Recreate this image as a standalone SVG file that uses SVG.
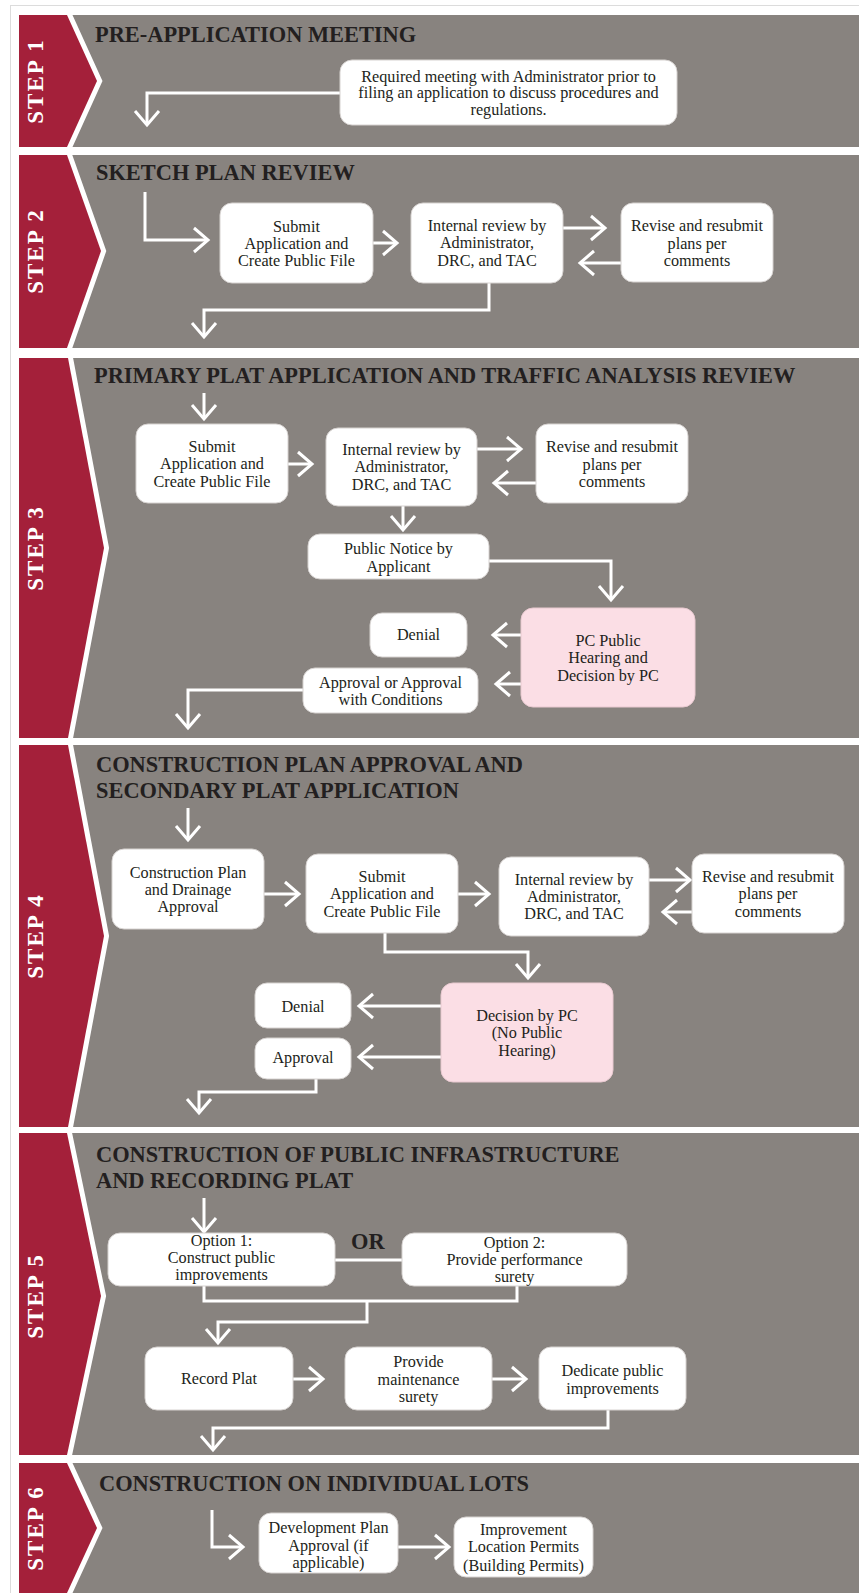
<svg xmlns="http://www.w3.org/2000/svg" width="859" height="1593" viewBox="0 0 859 1593">
<style>
.band{fill:#88837f}
.chev{fill:#a4203a;stroke:#fff;stroke-width:10;stroke-linejoin:miter;paint-order:stroke}
.step{font-family:"Liberation Serif","Times New Roman",serif;font-weight:bold;font-size:23px;fill:#fff;letter-spacing:2px;text-anchor:middle}
.title{font-family:"Liberation Serif","Times New Roman",serif;font-weight:bold;font-size:22.4px;fill:#231f20}
.box{fill:#fff;stroke:#d6d2d0;stroke-width:1}
.pink{fill:#fbdee5;stroke:#e8c9d0;stroke-width:1}
.t{font-family:"Liberation Serif","Times New Roman",serif;font-size:16.2px;fill:#231f20;text-anchor:middle}
.c{fill:none;stroke:#fff;stroke-width:3}
</style>
<defs>
<marker id="ah" viewBox="-17 -15 20 30" refX="0" refY="0" markerWidth="20" markerHeight="30" markerUnits="userSpaceOnUse" orient="auto">
<path d="M-14,-12 L0,0 L-14,12" fill="none" stroke="#fff" stroke-width="3"/>
</marker>
</defs>
<rect x="0" y="0" width="859" height="1593" fill="#fff"/>
<rect x="10.5" y="5.5" width="900" height="1650" fill="none" stroke="#dcdcdc" stroke-width="1"/>

<g id="bands">
<rect class="band" x="60" y="15" width="799" height="132"/>
<rect class="band" x="60" y="155" width="799" height="193"/>
<rect class="band" x="60" y="358" width="799" height="380"/>
<rect class="band" x="60" y="745" width="799" height="382"/>
<rect class="band" x="60" y="1133" width="799" height="322"/>
<rect class="band" x="60" y="1463" width="799" height="140"/>
</g>

<g id="step1-label">
<polygon class="chev" points="19,15 67,15 97,81 67,147 19,147"/>
<text class="step" transform="translate(43,81) rotate(-90)">STEP 1</text>
</g>
<g id="step2-label">
<polygon class="chev" points="19,155 67,155 101,251 67,348 19,348"/>
<text class="step" transform="translate(43,251) rotate(-90)">STEP 2</text>
</g>
<g id="step3-label">
<polygon class="chev" points="19,358 68,358 104,548 68,738 19,738"/>
<text class="step" transform="translate(43,548) rotate(-90)">STEP 3</text>
</g>
<g id="step4-label">
<polygon class="chev" points="19,745 68,745 104,936 68,1127 19,1127"/>
<text class="step" transform="translate(43,936) rotate(-90)">STEP 4</text>
</g>
<g id="step5-label">
<polygon class="chev" points="19,1133 67,1133 101,1296 67,1455 19,1455"/>
<text class="step" transform="translate(43,1296) rotate(-90)">STEP 5</text>
</g>
<g id="step6-label">
<polygon class="chev" points="19,1463 67,1463 97,1528 67,1593 19,1593"/>
<text class="step" transform="translate(43,1528) rotate(-90)">STEP 6</text>
</g>

<g id="titles">
<text class="title" x="95" y="42">PRE-APPLICATION MEETING</text>
<text class="title" x="96" y="180">SKETCH PLAN REVIEW</text>
<text class="title" x="94" y="383">PRIMARY PLAT APPLICATION AND TRAFFIC ANALYSIS REVIEW</text>
<text class="title" x="96" y="772">CONSTRUCTION PLAN APPROVAL AND</text>
<text class="title" x="96" y="798">SECONDARY PLAT APPLICATION</text>
<text class="title" x="96" y="1162">CONSTRUCTION OF PUBLIC INFRASTRUCTURE</text>
<text class="title" x="96" y="1188">AND RECORDING PLAT</text>
<text class="title" x="99" y="1491">CONSTRUCTION ON INDIVIDUAL LOTS</text>
</g>

<g id="connectors">
<path class="c" d="M340,93 H147 V125" marker-end="url(#ah)"/>
<path class="c" d="M145,192 V240 H208" marker-end="url(#ah)"/>
<path class="c" d="M373,243 H397" marker-end="url(#ah)"/>
<path class="c" d="M563,228 H605" marker-end="url(#ah)"/>
<path class="c" d="M621,263 H580" marker-end="url(#ah)"/>
<path class="c" d="M489,283 V310 H204 V337" marker-end="url(#ah)"/>
<path class="c" d="M204,393 V419" marker-end="url(#ah)"/>
<path class="c" d="M288,464 H312" marker-end="url(#ah)"/>
<path class="c" d="M477,449 H521" marker-end="url(#ah)"/>
<path class="c" d="M536,483 H494" marker-end="url(#ah)"/>
<path class="c" d="M403,506 V530" marker-end="url(#ah)"/>
<path class="c" d="M489,561 H611 V600" marker-end="url(#ah)"/>
<path class="c" d="M521,635 H493" marker-end="url(#ah)"/>
<path class="c" d="M521,684 H496" marker-end="url(#ah)"/>
<path class="c" d="M303,690 H188 V728" marker-end="url(#ah)"/>
<path class="c" d="M188,808 V840" marker-end="url(#ah)"/>
<path class="c" d="M264,894 H299" marker-end="url(#ah)"/>
<path class="c" d="M458,894 H489" marker-end="url(#ah)"/>
<path class="c" d="M649,880 H690" marker-end="url(#ah)"/>
<path class="c" d="M692,912 H663" marker-end="url(#ah)"/>
<path class="c" d="M385,933 V952 H528 V978" marker-end="url(#ah)"/>
<path class="c" d="M441,1006 H359" marker-end="url(#ah)"/>
<path class="c" d="M441,1057 H359" marker-end="url(#ah)"/>
<path class="c" d="M316,1079 V1092 H199 V1113" marker-end="url(#ah)"/>
<path class="c" d="M204,1198 V1232" marker-end="url(#ah)"/>
<path class="c" d="M335,1260 H402"/>
<path class="c" d="M204,1286 V1301 H517 V1286"/>
<path class="c" d="M367,1301 V1322 H218 V1343" marker-end="url(#ah)"/>
<path class="c" d="M293,1379 H323" marker-end="url(#ah)"/>
<path class="c" d="M492,1379 H526" marker-end="url(#ah)"/>
<path class="c" d="M608,1410 V1428 H213 V1450" marker-end="url(#ah)"/>
<path class="c" d="M212,1510 V1547 H243" marker-end="url(#ah)"/>
<path class="c" d="M398,1547 H449" marker-end="url(#ah)"/>
</g>

<g id="n1-meeting">
<rect class="box" x="340" y="60" width="337" height="65" rx="12"/>
<text class="t" x="508.5" y="82">Required meeting with Administrator prior to</text>
<text class="t" x="508.5" y="98">filing an application to discuss procedures and</text>
<text class="t" x="508.5" y="115">regulations.</text>
</g>

<g id="n2-submit">
<rect class="box" x="220" y="203" width="153" height="80" rx="12"/>
<text class="t" x="296.5" y="232">Submit</text>
<text class="t" x="296.5" y="249">Application and</text>
<text class="t" x="296.5" y="266">Create Public File</text>
</g>
<g id="n2-internal">
<rect class="box" x="411" y="203" width="152" height="80" rx="12"/>
<text class="t" x="487" y="231">Internal review by</text>
<text class="t" x="487" y="248">Administrator,</text>
<text class="t" x="487" y="266">DRC, and TAC</text>
</g>
<g id="n2-revise">
<rect class="box" x="621" y="203" width="152" height="79" rx="12"/>
<text class="t" x="697" y="231">Revise and resubmit</text>
<text class="t" x="697" y="249">plans per</text>
<text class="t" x="697" y="266">comments</text>
</g>

<g id="n3-submit">
<rect class="box" x="136" y="424" width="152" height="79" rx="12"/>
<text class="t" x="212" y="452">Submit</text>
<text class="t" x="212" y="469">Application and</text>
<text class="t" x="212" y="487">Create Public File</text>
</g>
<g id="n3-internal">
<rect class="box" x="326" y="428" width="151" height="78" rx="12"/>
<text class="t" x="401.5" y="455">Internal review by</text>
<text class="t" x="401.5" y="472">Administrator,</text>
<text class="t" x="401.5" y="490">DRC, and TAC</text>
</g>
<g id="n3-revise">
<rect class="box" x="536" y="424" width="152" height="79" rx="12"/>
<text class="t" x="612" y="452">Revise and resubmit</text>
<text class="t" x="612" y="470">plans per</text>
<text class="t" x="612" y="487">comments</text>
</g>
<g id="n3-notice">
<rect class="box" x="308" y="534" width="181" height="45" rx="12"/>
<text class="t" x="398.5" y="554">Public Notice by</text>
<text class="t" x="398.5" y="572">Applicant</text>
</g>
<g id="n3-hearing">
<rect class="pink" x="521" y="608" width="174" height="99" rx="12"/>
<text class="t" x="608" y="646">PC Public</text>
<text class="t" x="608" y="663">Hearing and</text>
<text class="t" x="608" y="681">Decision by PC</text>
</g>
<g id="n3-denial">
<rect class="box" x="370" y="613" width="97" height="44" rx="12"/>
<text class="t" x="418.5" y="640">Denial</text>
</g>
<g id="n3-approval">
<rect class="box" x="303" y="668" width="175" height="45" rx="12"/>
<text class="t" x="390.5" y="688">Approval or Approval</text>
<text class="t" x="390.5" y="705">with Conditions</text>
</g>

<g id="n4-construction">
<rect class="box" x="112" y="849" width="152" height="80" rx="12"/>
<text class="t" x="188" y="878">Construction Plan</text>
<text class="t" x="188" y="895">and Drainage</text>
<text class="t" x="188" y="912">Approval</text>
</g>
<g id="n4-submit">
<rect class="box" x="306" y="854" width="152" height="79" rx="12"/>
<text class="t" x="382" y="882">Submit</text>
<text class="t" x="382" y="899">Application and</text>
<text class="t" x="382" y="917">Create Public File</text>
</g>
<g id="n4-internal">
<rect class="box" x="499" y="857" width="150" height="79" rx="12"/>
<text class="t" x="574" y="885">Internal review by</text>
<text class="t" x="574" y="902">Administrator,</text>
<text class="t" x="574" y="919">DRC, and TAC</text>
</g>
<g id="n4-revise">
<rect class="box" x="692" y="854" width="152" height="79" rx="12"/>
<text class="t" x="768" y="882">Revise and resubmit</text>
<text class="t" x="768" y="899">plans per</text>
<text class="t" x="768" y="917">comments</text>
</g>
<g id="n4-decision">
<rect class="pink" x="441" y="983" width="172" height="99" rx="12"/>
<text class="t" x="527" y="1021">Decision by PC</text>
<text class="t" x="527" y="1038">(No Public</text>
<text class="t" x="527" y="1056">Hearing)</text>
</g>
<g id="n4-denial">
<rect class="box" x="255" y="983" width="96" height="45" rx="12"/>
<text class="t" x="303" y="1012">Denial</text>
</g>
<g id="n4-approval">
<rect class="box" x="255" y="1038" width="96" height="41" rx="12"/>
<text class="t" x="303" y="1063">Approval</text>
</g>

<g id="n5-option1">
<rect class="box" x="108" y="1233" width="227" height="53" rx="12"/>
<text class="t" x="221.5" y="1246">Option 1:</text>
<text class="t" x="221.5" y="1263">Construct public</text>
<text class="t" x="221.5" y="1280">improvements</text>
</g>
<g id="n5-or">
<text class="title" x="351" y="1249">OR</text>
</g>
<g id="n5-option2">
<rect class="box" x="402" y="1233" width="225" height="53" rx="12"/>
<text class="t" x="514.5" y="1248">Option 2:</text>
<text class="t" x="514.5" y="1265">Provide performance</text>
<text class="t" x="514.5" y="1282">surety</text>
</g>
<g id="n5-record">
<rect class="box" x="145" y="1347" width="148" height="63" rx="12"/>
<text class="t" x="219" y="1384">Record Plat</text>
</g>
<g id="n5-maintenance">
<rect class="box" x="345" y="1347" width="147" height="63" rx="12"/>
<text class="t" x="418.5" y="1367">Provide</text>
<text class="t" x="418.5" y="1385">maintenance</text>
<text class="t" x="418.5" y="1402">surety</text>
</g>
<g id="n5-dedicate">
<rect class="box" x="539" y="1347" width="147" height="63" rx="12"/>
<text class="t" x="612.5" y="1376">Dedicate public</text>
<text class="t" x="612.5" y="1394">improvements</text>
</g>

<g id="n6-development">
<rect class="box" x="259" y="1513" width="139" height="60" rx="12"/>
<text class="t" x="328.5" y="1533">Development Plan</text>
<text class="t" x="328.5" y="1551">Approval (if</text>
<text class="t" x="328.5" y="1568">applicable)</text>
</g>
<g id="n6-permits">
<rect class="box" x="454" y="1517" width="139" height="60" rx="12"/>
<text class="t" x="523.5" y="1535">Improvement</text>
<text class="t" x="523.5" y="1552">Location Permits</text>
<text class="t" x="523.5" y="1571">(Building Permits)</text>
</g>
</svg>
